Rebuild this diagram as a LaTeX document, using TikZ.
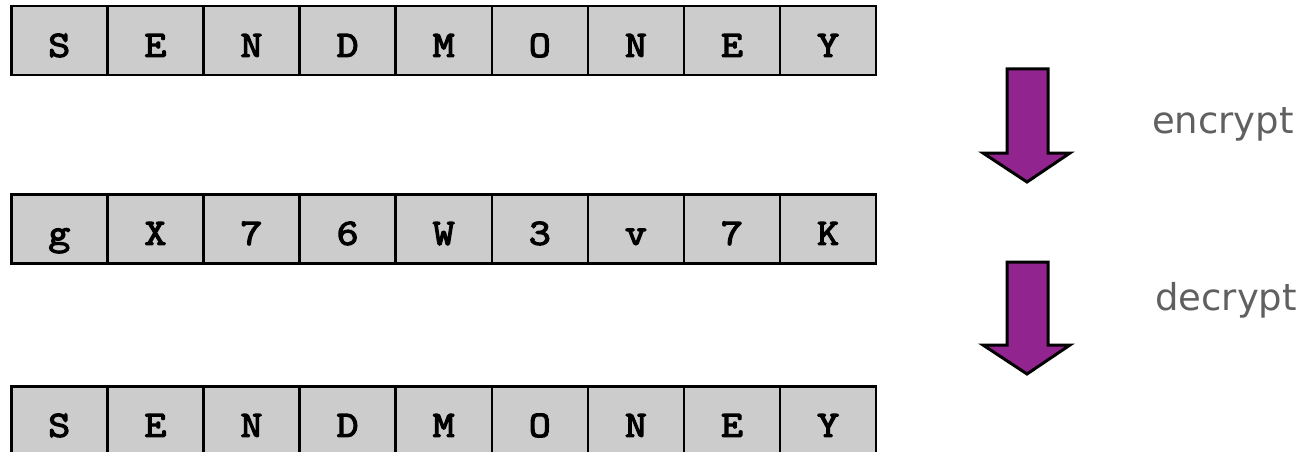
\documentclass[tikz,border=0pt]{standalone}
\usepackage{fontspec}
\newfontfamily\labelfont{DejaVu Sans}
\newfontfamily\cellfont{Latin Modern Mono}[FakeBold=3.5,FakeStretch=1.15]
\definecolor{cellgray}{RGB}{204,204,204}
\definecolor{arrowpurple}{RGB}{146,36,143}
\definecolor{labelgray}{RGB}{96,96,96}
\begin{document}
\begin{tikzpicture}[x=1pt,y=-1pt]
\useasboundingbox (0,0) rectangle (1310,452);
\tikzset{
  cell/.style={draw=black, line width=2.5pt, fill=cellgray, minimum width=96.1pt,
    minimum height=69pt, inner sep=0pt, anchor=north west,
    font=\cellfont\fontsize{37}{37}\selectfont,
    text height=32pt, text depth=0pt},
  blockarrow/.style={draw=black, line width=3pt, fill=arrowpurple, line join=miter},
  oplabel/.style={anchor=base west, inner sep=0pt, text=labelgray,
    font=\labelfont\fontsize{37}{37}\selectfont}
}
% row 1
\foreach \t [count=\i from 0] in {S,E,N,D,M,O,N,E,Y}
  \node[cell] (a\i) at ({10+96.1*\i},5) {\t};
% row 2
\foreach \t [count=\i from 0] in {g,X,7,6,W,3,v,7,K}
  \node[cell] (b\i) at ({10+96.1*\i},193) {\t};
% row 3
\foreach \t [count=\i from 0] in {S,E,N,D,M,O,N,E,Y}
  \node[cell] (c\i) at ({10+96.1*\i},385) {\t};
% arrows
\draw[blockarrow] (1007,69) -- (1048,69) -- (1048,153) -- (1070,153) -- (1027,182)
  -- (983,153) -- (1007,153) -- cycle;
\draw[blockarrow] (1007,262) -- (1048,262) -- (1048,345) -- (1070,345) -- (1027,374)
  -- (983,345) -- (1007,345) -- cycle;
% labels
\node[oplabel] (enc) at (1152,133) {encrypt};
\node[oplabel] (dec) at (1155,310) {decrypt};
\end{tikzpicture}
\end{document}
